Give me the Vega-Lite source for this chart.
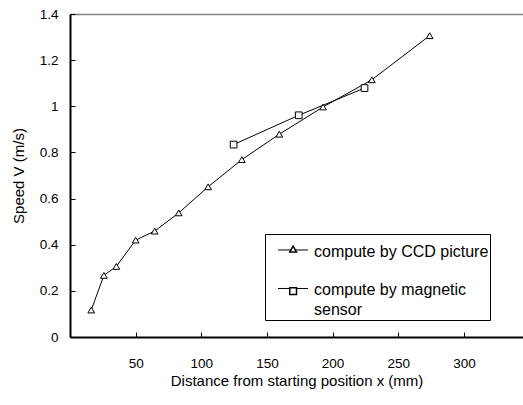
{
  "$schema": "https://vega.github.io/schema/vega-lite/v6.json",
  "width": 453,
  "height": 323,
  "autosize": {"type": "none"},
  "padding": {"left": 70, "top": 14, "right": 0, "bottom": 68},
  "background": "white",
  "config": {
    "view": {"stroke": null},
    "font": "Liberation Sans",
    "axis": {"labelFont": "Liberation Sans", "titleFont": "Liberation Sans", "labelColor": "black", "titleColor": "black", "titleFontWeight": "normal", "grid": false}
  },
  "data": {"values": [
    {"series": "compute by CCD picture", "x": 16.2, "v": 0.117},
    {"series": "compute by CCD picture", "x": 25.8, "v": 0.267},
    {"series": "compute by CCD picture", "x": 35.3, "v": 0.306},
    {"series": "compute by CCD picture", "x": 50.0, "v": 0.42},
    {"series": "compute by CCD picture", "x": 64.5, "v": 0.459},
    {"series": "compute by CCD picture", "x": 82.8, "v": 0.538},
    {"series": "compute by CCD picture", "x": 105.2, "v": 0.651},
    {"series": "compute by CCD picture", "x": 130.9, "v": 0.769},
    {"series": "compute by CCD picture", "x": 159.4, "v": 0.879},
    {"series": "compute by CCD picture", "x": 192.7, "v": 0.997},
    {"series": "compute by CCD picture", "x": 229.9, "v": 1.115},
    {"series": "compute by CCD picture", "x": 273.9, "v": 1.306},
    {"series": "compute by magnetic sensor", "x": 124.6, "v": 0.834},
    {"series": "compute by magnetic sensor", "x": 174.2, "v": 0.961},
    {"series": "compute by magnetic sensor", "x": 224.3, "v": 1.079}
  ]},
  "resolve": {"axis": {"x": "independent"}},
  "layer": [
    {
      "mark": {"type": "line", "strokeWidth": 1},
      "encoding": {
        "x": {"field": "x", "type": "quantitative", "scale": {"domain": [0, 345], "nice": false},
          "axis": {"title": "Distance from starting position x (mm)", "values": [50, 100, 150, 200, 250, 300], "tickSize": -5, "tickColor": "black", "domainColor": "black", "domainWidth": 2, "labelFontSize": 13.5, "titleFontSize": 15, "labelPadding": 24, "titlePadding": 4}},
        "y": {"field": "v", "type": "quantitative", "scale": {"domain": [0, 1.4], "nice": false},
          "axis": {"title": "Speed V (m/s)", "format": "~g", "values": [0, 0.2, 0.4, 0.6, 0.8, 1, 1.2, 1.4], "tickSize": -5, "tickColor": "black", "domainColor": "black", "domainWidth": 2, "labelFontSize": 13.5, "titleFontSize": 15, "labelPadding": 17, "titlePadding": 13}},
        "color": {"field": "series", "type": "nominal", "scale": {"range": ["black", "black"]},
          "legend": {"title": null, "orient": "none", "legendX": 195, "legendY": 220,
            "padding": 1.5, "strokeColor": "black",
            "symbolType": "M0.58,1.08L5.58,1.08", "symbolSize": 144, "symbolStrokeWidth": 1,
            "labelFontSize": 16, "labelLimit": 400, "labelOffset": 31.5, "labelBaseline": "top", "labelColor": "black",
            "rowPadding": 14.5,
            "labelExpr": "datum.label == 'compute by magnetic sensor' ? ['compute by magnetic', 'sensor'] : datum.label",
            "encode": {"labels": {"update": {"lineHeight": {"value": 20}}}}
          }}
      }
    },
    {
      "mark": {"type": "point", "filled": false, "fill": "white", "fillOpacity": 1, "stroke": "black", "strokeWidth": 1, "opacity": 1},
      "encoding": {
        "x": {"field": "x", "type": "quantitative",
          "axis": {"orient": "top", "labels": false, "ticks": false, "title": null, "domainColor": "#808080", "domainWidth": 1.5}},
        "y": {"field": "v", "type": "quantitative"},
        "shape": {"field": "series", "type": "nominal",
          "scale": {"range": ["triangle-up", "square"]},
          "legend": {
            "title": null, "orient": "none", "legendX": 218.65, "legendY": 230.65,
            "padding": 0, "symbolSize": 45, "labelFontSize": 2, "labelExpr": "''", "rowPadding": 29
          }},
        "size": {"value": 45}
      }
    }
  ]
}
